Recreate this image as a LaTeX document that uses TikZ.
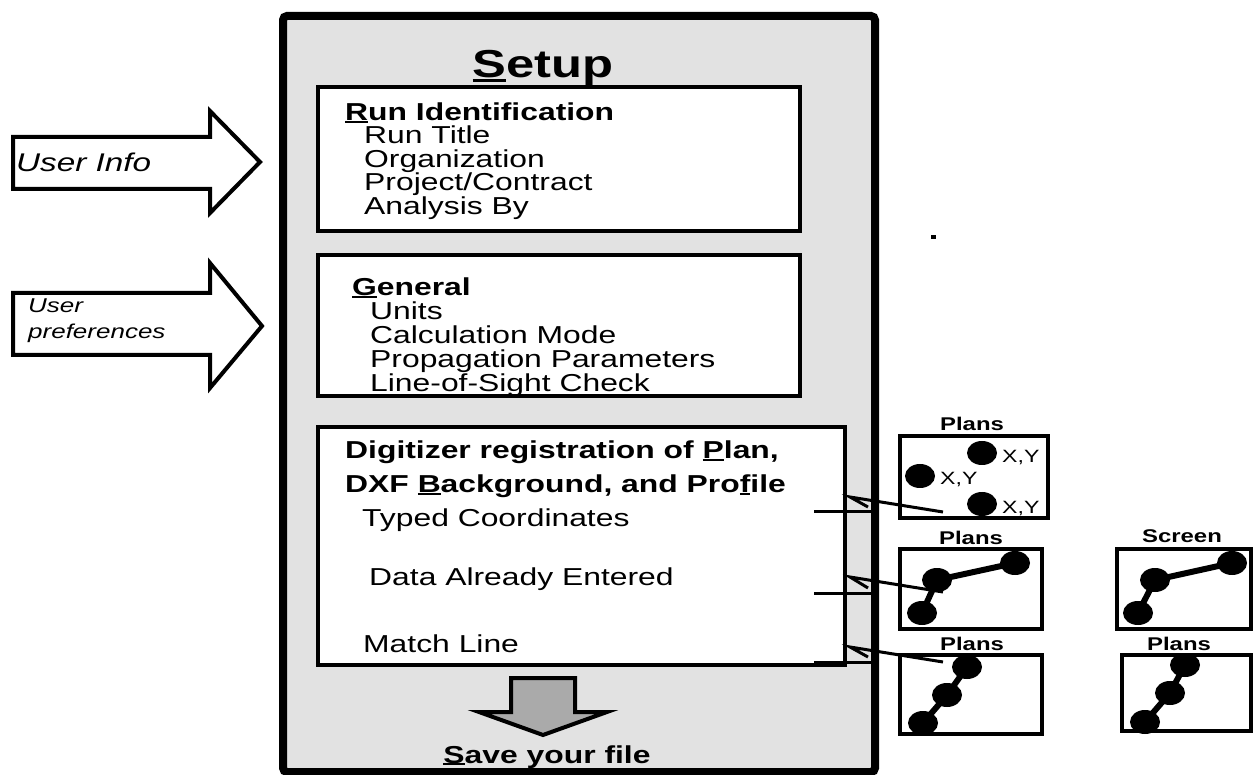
\documentclass[tikz,border=0pt]{standalone}
\usepackage{fontspec}
\setmainfont{Liberation Sans}[FakeStretch=1.3]
\usetikzlibrary{shapes.geometric}
\newcommand{\ulx}[1]{\setbox0\hbox{#1}\rlap{\rule[-0.1em]{\wd0}{0.085em}}#1}
\definecolor{bggray}{RGB}{226,226,226}
\definecolor{arrgray}{RGB}{170,170,170}
\begin{document}
\begin{tikzpicture}[x=1pt,y=-1pt,
  frame/.style={draw,line width=4pt,fill=white,rectangle,inner sep=0pt,outer sep=0pt},
  picbox/.style={draw,line width=4pt,fill=white,rectangle,inner sep=0pt,outer sep=0pt},
  txt/.style={anchor=base west,inner sep=0pt,font=\fontsize{24.5}{28}\selectfont},
  hd/.style={anchor=base west,inner sep=0pt,font=\fontsize{24.5}{28}\selectfont\bfseries},
  lbl/.style={anchor=base,inner sep=0pt,font=\fontsize{18.4}{21}\selectfont\bfseries},
  xy/.style={anchor=base west,inner sep=0pt,font=\fontsize{17.8}{21}\selectfont},
  dotn/.style={ellipse,fill=black,inner sep=0pt,minimum width=30pt,minimum height=24pt},
  link/.style={line width=6pt},
  conn/.style={line width=3pt,line join=miter},
  inarrow/.style={draw,line width=4pt,fill=white,line join=miter}]
\useasboundingbox (0,0) rectangle (1254,775);

% outer Setup panel
\node[draw,line width=8pt,fill=bggray,rectangle,rounded corners=4pt,inner sep=0pt,
  minimum width=592pt,minimum height=756pt] (outer) at (579,394) {};
\node[anchor=base,inner sep=0pt,font=\fontsize{39}{43}\selectfont\bfseries] (setup) at (543,78) {\ulx{S}etup};

% box 1
\node[frame,minimum width=482pt,minimum height=144pt] (box1) at (559,159) {};
\node[hd] (ri) at (345,121) {\ulx{R}un Identification};
\node[txt] (r1) at (364,144) {Run Title};
\node[txt] (r2) at (364,167.5) {Organization};
\node[txt] (r3) at (364,191) {Project/Contract};
\node[txt] (r4) at (364,214.5) {Analysis By};

% box 2
\node[frame,minimum width=482pt,minimum height=141pt] (box2) at (559,325.5) {};
\node[hd] (gen) at (352,296) {\ulx{G}eneral};
\node[txt] (g1) at (370,320) {Units};
\node[txt] (g2) at (370,344) {Calculation Mode};
\node[txt] (g3) at (370,368) {Propagation Parameters};
\node[txt] (g4) at (370,391.5) {Line-of-Sight Check};

% box 3
\node[frame,minimum width=527pt,minimum height=238pt] (box3) at (581.5,546) {};
\node[hd] (d1) at (345,459) {Digitizer registration of \ulx{P}lan,};
\node[hd] (d2) at (345,493) {DXF \ulx{B}ackground, and Pro\ulx{f}ile};
\node[txt] (d3) at (362,527) {Typed Coordinates};
\node[txt] (d4) at (369,586) {Data Already Entered};
\node[txt] (d5) at (363,652) {Match Line};

% down arrow
\draw[line width=4pt,fill=arrgray,line join=miter] (511,678) -- (575,678) -- (575,712) -- (607,712)
  -- (543,735) -- (479,712) -- (511,712) -- cycle;
\node[anchor=base,inner sep=0pt,font=\fontsize{24.5}{28}\selectfont\bfseries] (save) at (547,763) {\ulx{S}ave your file};

% input arrows
\draw[inarrow] (13,137) -- (210,137) -- (210,111) -- (260,162) -- (210,213) -- (210,189) -- (13,189) -- cycle;
\node[anchor=base west,inner sep=0pt,font=\fontsize{25.6}{29}\selectfont\itshape] (ui) at (16,172) {User Info};
\draw[inarrow] (13,293) -- (210,293) -- (210,263) -- (262,326) -- (210,388) -- (210,355) -- (13,355) -- cycle;
\node[anchor=base west,inner sep=0pt,font=\fontsize{20}{23}\selectfont\itshape] (up1) at (28,313) {User};
\node[anchor=base west,inner sep=0pt,font=\fontsize{20}{23}\selectfont\itshape] (up2) at (28,339) {preferences};

% stray dot
\fill (931,235.5) rectangle (936,239.5);

% picture A : typed coordinates
\node[picbox,minimum width=148pt,minimum height=82pt] (pA) at (974,477) {};
\node[lbl] (lA) at (972,431) {Plans};
\node[dotn] (a1) at (982,453) {};
\node[dotn] (a2) at (920,476) {};
\node[dotn] (a3) at (982,504) {};
\node[xy] (xa1) at (1002,463) {X,Y};
\node[xy] (xa2) at (940,485) {X,Y};
\node[xy] (xa3) at (1002,514) {X,Y};

% picture B : plans (data already entered)
\node[picbox,minimum width=142pt,minimum height=80pt] (pB) at (971,589) {};
\node[lbl] (lB) at (971,545) {Plans};
\node[dotn] (b1) at (922,613) {};
\node[dotn] (b2) at (937,580) {};
\node[dotn] (b3) at (1015,563) {};
\draw[link] (b1.center) -- (b2.center) -- (b3.center);

% picture C : screen
\node[picbox,minimum width=134pt,minimum height=80pt] (pC) at (1184,589) {};
\node[lbl] (lC) at (1182,543) {Screen};
\node[dotn] (c1) at (1138,613) {};
\node[dotn] (c2) at (1155,580) {};
\node[dotn] (c3) at (1232,563) {};
\draw[link] (c1.center) -- (c2.center) -- (c3.center);

% picture D : plans (match line)
\node[picbox,minimum width=142pt,minimum height=79pt] (pD) at (971,694.5) {};
\node[lbl] (lD) at (972,650) {Plans};
\node[dotn] (e1) at (923,723) {};
\node[dotn] (e2) at (947,695) {};
\node[dotn] (e3) at (967,667) {};
\draw[link] (e1.center) -- (e2.center) -- (e3.center);

% picture E : plans
\node[picbox,minimum width=129pt,minimum height=76pt] (pE) at (1186.5,693) {};
\node[lbl] (lE) at (1179,650) {Plans};
\node[dotn] (f1) at (1145,722) {};
\node[dotn] (f2) at (1170,693) {};
\node[dotn] (f3) at (1185,665) {};
\draw[link] (f1.center) -- (f2.center) -- (f3.center);

% connectors
\coordinate (s1) at (814,512); \coordinate (s1e) at (872,512);
\coordinate (k1) at (850,497); \coordinate (k1b) at (868,507); \coordinate (t1) at (943,512);
\coordinate (s2) at (814,593); \coordinate (s2e) at (872,593);
\coordinate (k2) at (850,577); \coordinate (k2b) at (868,588); \coordinate (t2) at (943,592);
\coordinate (s3) at (814,662); \coordinate (s3e) at (872,662);
\coordinate (k3) at (850,647); \coordinate (k3b) at (868,657); \coordinate (t3) at (943,662);
\draw[conn] (s1) -- (s1e);
\draw[conn] (t1) -- (k1) -- (k1b);
\draw[conn] (s2) -- (s2e);
\draw[conn] (t2) -- (k2) -- (k2b);
\draw[conn] (s3) -- (s3e);
\draw[conn] (t3) -- (k3) -- (k3b);
\end{tikzpicture}
\end{document}
